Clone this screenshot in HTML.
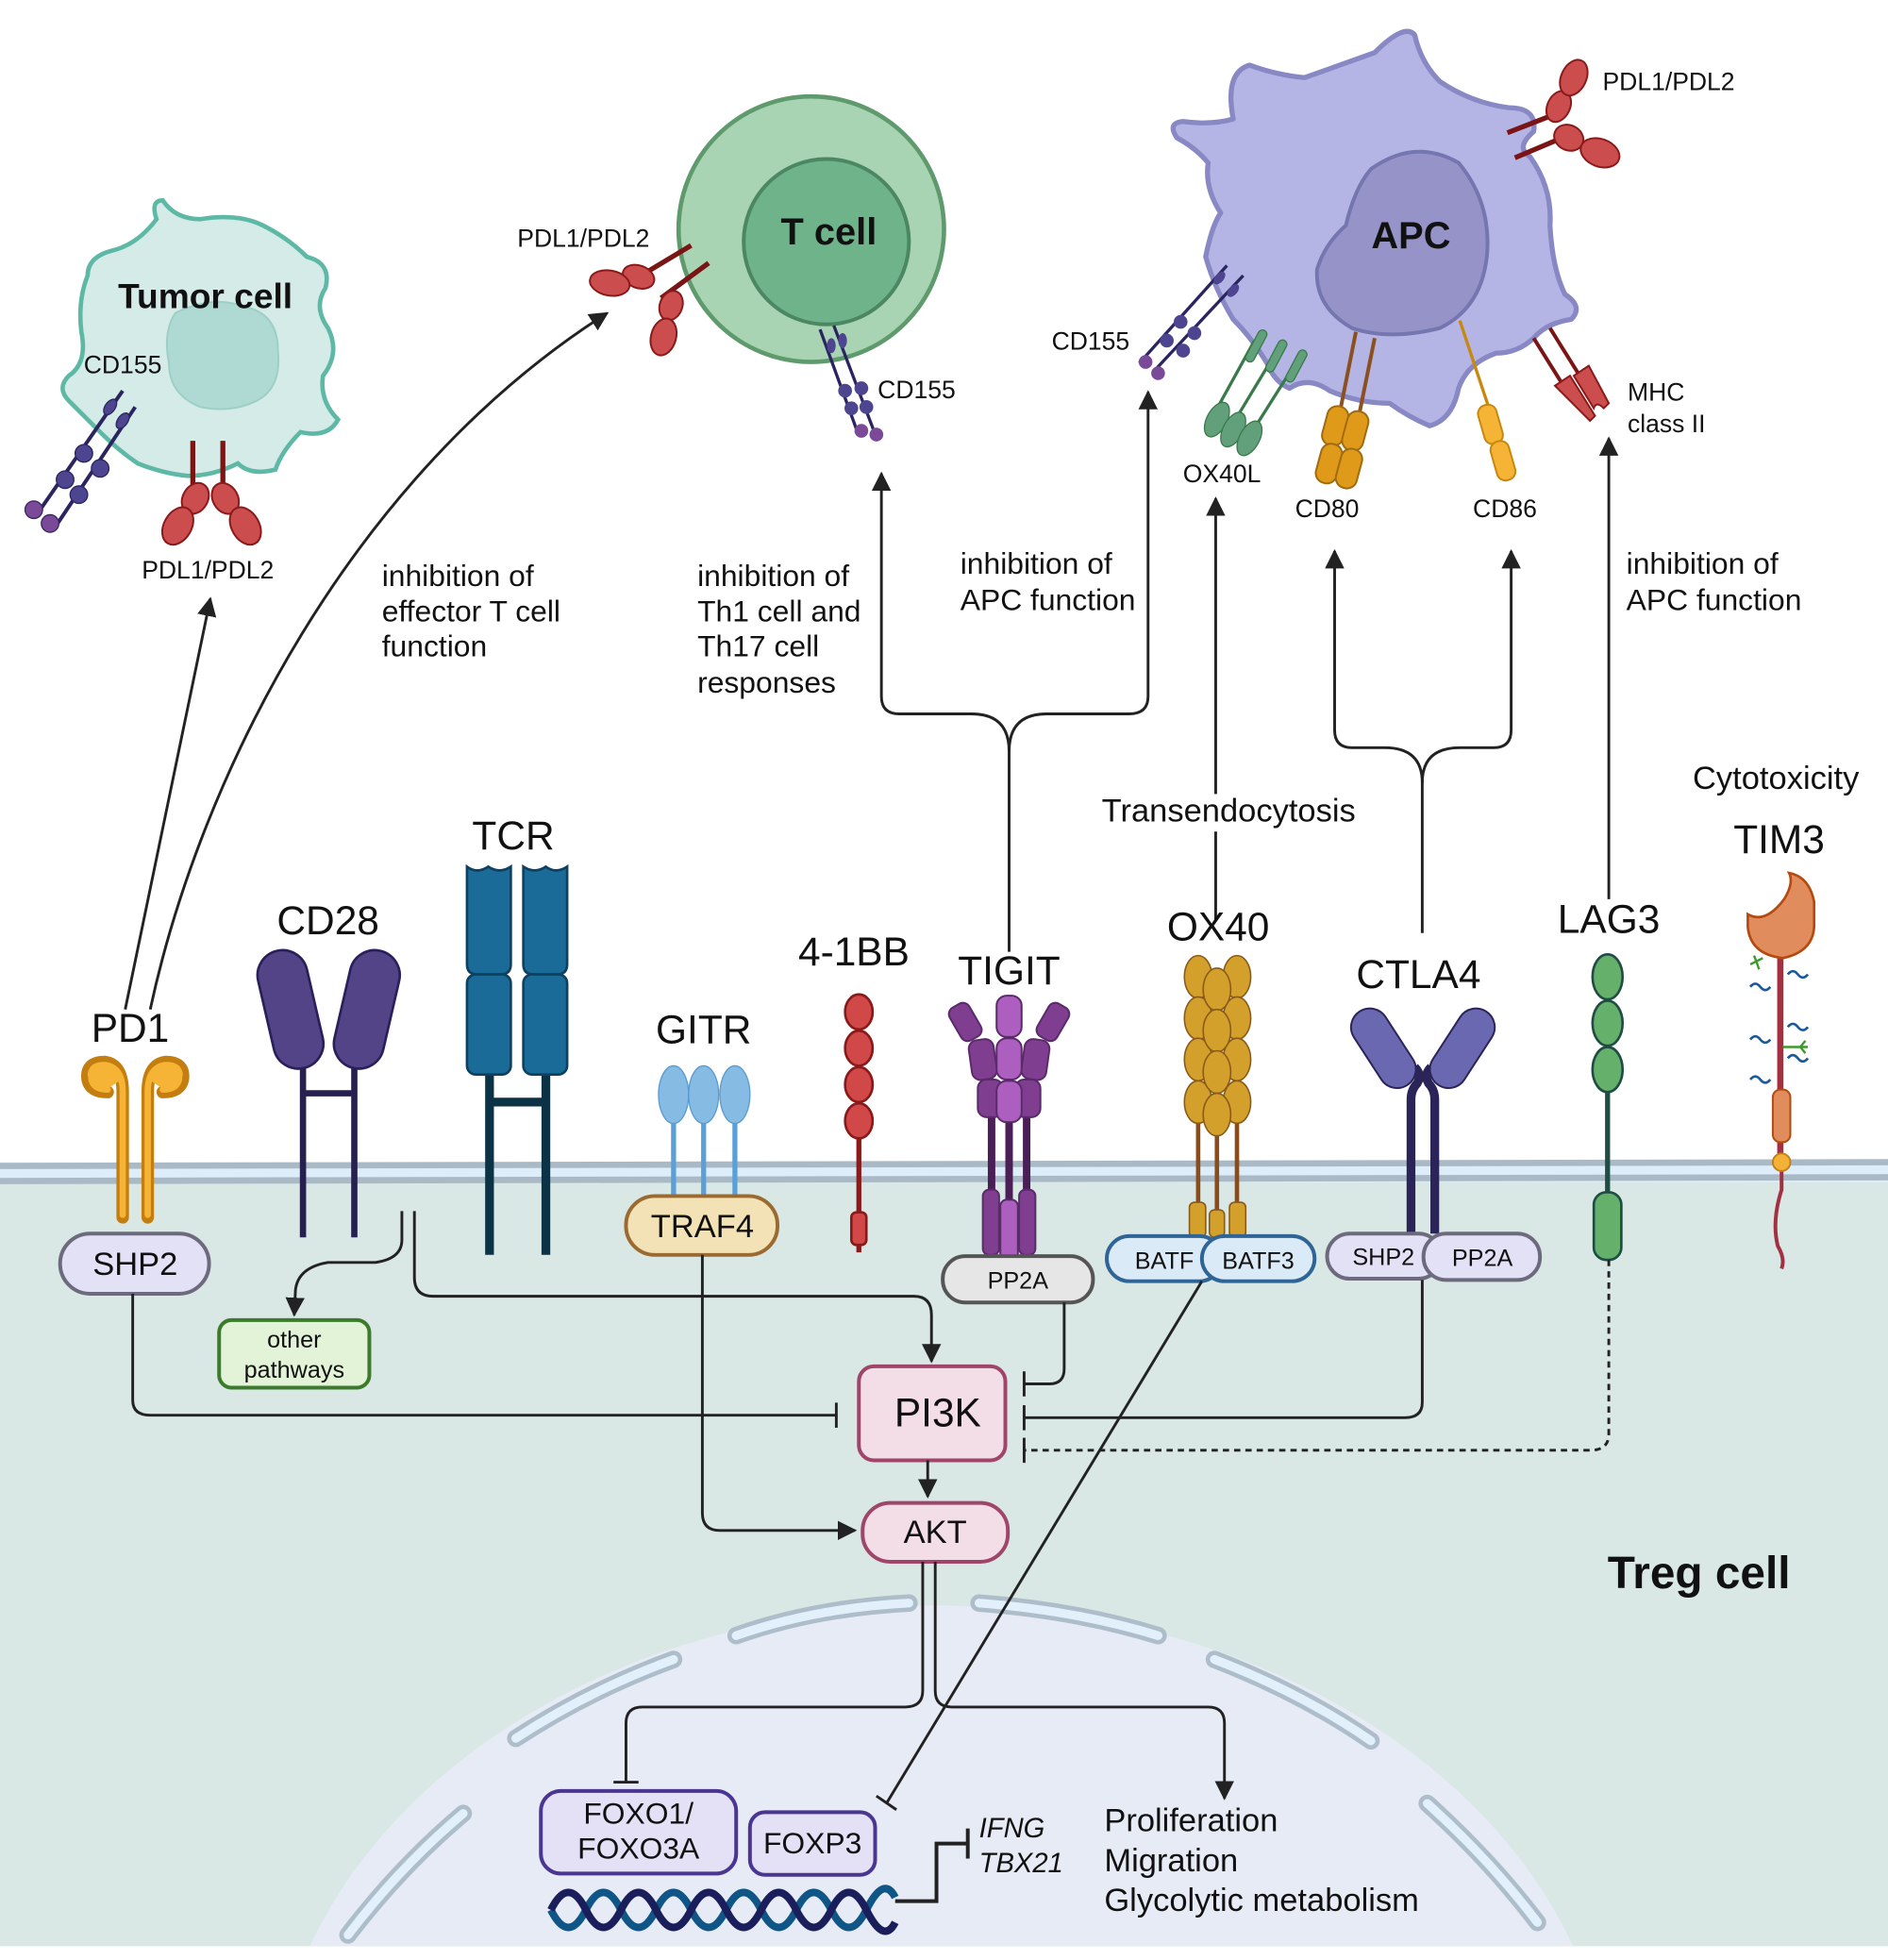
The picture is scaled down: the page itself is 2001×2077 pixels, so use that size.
<!DOCTYPE html>
<html><head><meta charset="utf-8"><style>
html,body{margin:0;padding:0;background:#fff;overflow:hidden;width:2001px;height:2077px;position:relative}
svg{display:block;position:absolute;left:0;top:0}
text{font-family:"Liberation Sans",Arial,sans-serif;fill:#111}
</style></head><body>
<svg width="2001" height="2077" viewBox="0 0 1508 1565" preserveAspectRatio="none" xmlns="http://www.w3.org/2000/svg">
<defs>
<marker id="ar" viewBox="0 0 10 10" refX="9" refY="5" markerWidth="7" markerHeight="7" orient="auto-start-reverse"><path d="M0,0 L10,5 L0,10 z" fill="#222"/></marker>
</defs>
<rect width="1508" height="1565" fill="#fff"/>
<rect x="0" y="940" width="1508" height="614" fill="#d9e8e4"/>
<rect x="0" y="928" width="1508" height="16" fill="#ddeefa"/>
<line x1="0" y1="931" x2="1508" y2="928" stroke="#aab9c6" stroke-width="5"/>
<line x1="0" y1="943" x2="1508" y2="940" stroke="#aab9c6" stroke-width="5"/>
<clipPath id="cl"><rect x="0" y="944" width="1508" height="610"/></clipPath>
<g clip-path="url(#cl)">
<ellipse cx="752" cy="1690" rx="535" ry="408" fill="#e7ebf5"/>
<g stroke="#aebdca" stroke-width="14" stroke-linecap="round" fill="none">
<path d="M588,1306 Q650,1284 726,1280"/><path d="M782,1280 Q860,1286 925,1306"/>
<path d="M970,1325 Q1040,1352 1095,1390"/><path d="M1140,1440 Q1190,1485 1228,1535"/>
<path d="M412,1388 Q470,1350 538,1325"/><path d="M278,1545 Q320,1490 370,1448"/>
</g>
<g stroke="#e2f0fb" stroke-width="7" stroke-linecap="round" fill="none">
<path d="M588,1306 Q650,1284 726,1280"/><path d="M782,1280 Q860,1286 925,1306"/>
<path d="M970,1325 Q1040,1352 1095,1390"/><path d="M1140,1440 Q1190,1485 1228,1535"/>
<path d="M412,1388 Q470,1350 538,1325"/><path d="M278,1545 Q320,1490 370,1448"/>
</g>
</g>

<!-- Tumor cell -->
<path d="M125,175 Q120,160 130,160 Q140,175 160,175 Q190,170 210,180 Q230,190 245,205 Q265,210 260,230 Q250,245 262,262 Q272,282 258,300 Q255,320 270,335 Q262,350 240,345 Q225,360 220,375 Q200,380 190,370 Q170,380 150,380 Q130,378 110,370 Q95,360 80,345 Q65,330 55,320 Q45,310 55,300 Q70,290 65,265 Q62,240 70,220 Q70,205 90,200 Q110,195 125,175 Z" fill="#d4ebe8" stroke="#5db8a6" stroke-width="3.5"/>
<path d="M140,250 Q170,235 195,245 Q222,250 222,280 Q225,310 205,320 Q185,330 160,325 Q135,315 135,290 Q130,265 140,250 Z" fill="#afdad4" stroke="#9ccfc6" stroke-width="1.5"/>
<text x="164" y="246" font-size="28" font-weight="bold" text-anchor="middle">Tumor cell</text>
<text x="98" y="298" font-size="20" text-anchor="middle">CD155</text>
<g stroke="#2a2560" stroke-width="3"><line x1="30" y1="410" x2="98" y2="312"/><line x1="46" y1="418" x2="108" y2="325"/></g>
<g fill="#4e4590" stroke="#2a2560" stroke-width="1"><ellipse cx="88" cy="325" rx="4" ry="7" transform="rotate(35 88 325)"/><ellipse cx="98" cy="336" rx="4" ry="7" transform="rotate(35 98 336)"/><circle cx="67" cy="362" r="7"/><circle cx="80" cy="374" r="7"/><circle cx="52" cy="383" r="7"/><circle cx="63" cy="395" r="7"/></g>
<g fill="#7a4a98" stroke="#3a2560"><circle cx="27" cy="407" r="7"/><circle cx="40" cy="418" r="7"/></g>
<g stroke="#7a1515" stroke-width="4"><line x1="154" y1="352" x2="154" y2="392"/><line x1="178" y1="352" x2="178" y2="392"/></g>
<g fill="#cc4d4d" stroke="#8a1a1a" stroke-width="1.5"><ellipse cx="156" cy="398" rx="10" ry="13" transform="rotate(30 156 398)"/><ellipse cx="142" cy="420" rx="11" ry="16" transform="rotate(30 142 420)"/><ellipse cx="180" cy="398" rx="10" ry="13" transform="rotate(-30 180 398)"/><ellipse cx="196" cy="420" rx="11" ry="16" transform="rotate(-30 196 420)"/></g>
<text x="166" y="462" font-size="20" text-anchor="middle">PDL1/PDL2</text>

<!-- T cell -->
<circle cx="648" cy="183" r="106" fill="#a9d4b4" stroke="#5e9a6c" stroke-width="3.5"/>
<circle cx="660" cy="193" r="66" fill="#6fb38b" stroke="#4b8762" stroke-width="3"/>
<text x="662" y="195" font-size="30" font-weight="bold" text-anchor="middle">T cell</text>
<text x="466" y="197" font-size="20" text-anchor="middle">PDL1/PDL2</text>
<g stroke="#7a1515" stroke-width="4"><line x1="512" y1="220" x2="552" y2="196"/><line x1="528" y1="238" x2="566" y2="210"/></g>
<g fill="#cc4d4d" stroke="#8a1a1a" stroke-width="1.5"><ellipse cx="510" cy="221" rx="9" ry="13" transform="rotate(-70 510 221)"/><ellipse cx="487" cy="226" rx="10" ry="16" transform="rotate(-80 487 226)"/><ellipse cx="536" cy="244" rx="9" ry="12" transform="rotate(20 536 244)"/><ellipse cx="530" cy="269" rx="10" ry="15" transform="rotate(15 530 269)"/></g>
<g stroke="#2a2560" stroke-width="2.5"><line x1="655" y1="263" x2="686" y2="348"/><line x1="666" y1="260" x2="698" y2="344"/></g>
<g fill="#4e4590"><ellipse cx="664" cy="276" rx="3.5" ry="6"/><ellipse cx="673" cy="272" rx="3.5" ry="6"/><circle cx="675" cy="312" r="5.5"/><circle cx="688" cy="310" r="5.5"/><circle cx="680" cy="326" r="5.5"/><circle cx="692" cy="325" r="5.5"/></g>
<g fill="#7a4a98"><circle cx="688" cy="344" r="5.5"/><circle cx="700" cy="347" r="5.5"/></g>
<text x="701" y="318" font-size="20">CD155</text>

<!-- APC -->
<path d="M940,110 Q932,98 945,97 Q968,100 985,95 Q978,58 998,52 Q1020,60 1042,62 Q1070,52 1098,42 Q1122,18 1130,28 Q1135,50 1150,65 Q1175,82 1205,86 Q1228,86 1225,105 Q1210,118 1222,125 Q1240,150 1238,180 Q1240,215 1250,235 Q1265,245 1255,255 Q1235,258 1225,270 Q1212,282 1195,282 Q1172,290 1165,310 Q1160,335 1142,340 Q1125,333 1110,322 Q1085,322 1062,312 Q1045,300 1030,310 Q1018,305 1012,290 Q1000,270 985,255 Q970,230 963,205 Q968,180 975,170 Q962,150 965,130 Q955,118 940,110 Z" fill="#b4b5e5" stroke="#8888c4" stroke-width="4" stroke-linejoin="round"/>
<path d="M1095,135 Q1130,110 1165,130 Q1190,160 1188,200 Q1185,245 1150,262 Q1110,272 1080,262 Q1050,245 1052,215 Q1058,195 1075,180 Q1082,150 1095,135 Z" fill="#9593c7" stroke="#7575b0" stroke-width="3"/>
<text x="1127" y="198" font-size="30" font-weight="bold" text-anchor="middle">APC</text>
<text x="1280" y="72" font-size="20">PDL1/PDL2</text>
<g stroke="#7a1515" stroke-width="4"><line x1="1204" y1="106" x2="1240" y2="92"/><line x1="1210" y1="126" x2="1248" y2="110"/></g>
<g fill="#cc4d4d" stroke="#8a1a1a" stroke-width="1.5"><ellipse cx="1245" cy="85" rx="9" ry="13" transform="rotate(25 1245 85)"/><ellipse cx="1257" cy="62" rx="10" ry="15" transform="rotate(25 1257 62)"/><ellipse cx="1253" cy="110" rx="10" ry="12" transform="rotate(-65 1253 110)"/><ellipse cx="1278" cy="122" rx="11" ry="16" transform="rotate(-70 1278 122)"/></g>
<text x="840" y="279" font-size="20">CD155</text>
<g stroke="#2a2560" stroke-width="2.5"><line x1="910" y1="290" x2="980" y2="212"/><line x1="922" y1="296" x2="993" y2="220"/></g>
<g fill="#4e4590"><ellipse cx="974" cy="222" rx="3.5" ry="6" transform="rotate(40 974 222)"/><ellipse cx="985" cy="232" rx="3.5" ry="6" transform="rotate(40 985 232)"/><circle cx="943" cy="257" r="5.5"/><circle cx="954" cy="266" r="5.5"/><circle cx="932" cy="272" r="5.5"/><circle cx="945" cy="280" r="5.5"/></g>
<g fill="#7a4a98"><circle cx="915" cy="289" r="5.5"/><circle cx="925" cy="298" r="5.5"/></g>
<g stroke="#3a7a4a" stroke-width="2.5"><line x1="970" y1="330" x2="1002" y2="272"/><line x1="985" y1="338" x2="1020" y2="280"/><line x1="1000" y1="345" x2="1036" y2="288"/></g>
<g fill="#61a07a" stroke="#3a7a4a" stroke-width="1"><rect x="1000" y="262" width="7" height="28" rx="3.5" transform="rotate(28 1003 276)"/><rect x="1016" y="270" width="7" height="28" rx="3.5" transform="rotate(28 1019 284)"/><rect x="1032" y="278" width="7" height="28" rx="3.5" transform="rotate(28 1035 292)"/><ellipse cx="972" cy="335" rx="8" ry="15" transform="rotate(28 972 335)"/><ellipse cx="985" cy="343" rx="8" ry="15" transform="rotate(28 985 343)"/><ellipse cx="998" cy="350" rx="8" ry="15" transform="rotate(28 998 350)"/></g>
<text x="976" y="385" font-size="20" text-anchor="middle">OX40L</text>
<g stroke="#8a5020" stroke-width="3"><line x1="1083" y1="265" x2="1070" y2="330"/><line x1="1098" y1="270" x2="1085" y2="334"/></g>
<g fill="#df9a1a" stroke="#a06a10" stroke-width="1.5"><rect x="1058" y="324" width="17" height="32" rx="8" transform="rotate(15 1066 340)"/><rect x="1074" y="328" width="17" height="32" rx="8" transform="rotate(15 1082 344)"/><rect x="1053" y="354" width="17" height="32" rx="8" transform="rotate(15 1061 370)"/><rect x="1069" y="358" width="17" height="32" rx="8" transform="rotate(15 1077 374)"/></g>
<text x="1060" y="413" font-size="20" text-anchor="middle">CD80</text>
<line x1="1166" y1="256" x2="1190" y2="328" stroke="#c8880e" stroke-width="2.5"/>
<g fill="#f6b436" stroke="#c8880e" stroke-width="1.5"><rect x="1183" y="323" width="15" height="32" rx="7" transform="rotate(-16 1190 339)"/><rect x="1193" y="352" width="15" height="32" rx="7" transform="rotate(-16 1200 368)"/></g>
<text x="1202" y="413" font-size="20" text-anchor="middle">CD86</text>
<g stroke="#7a1515" stroke-width="3"><line x1="1225" y1="270" x2="1250" y2="310"/><line x1="1238" y1="262" x2="1263" y2="302"/></g>
<g fill="#cc4d4d" stroke="#8a1a1a" stroke-width="1.5"><path d="M1242,308 l12,-8 l20,32 l-4,4 l-8,-8 z"/><path d="M1257,300 l12,-8 l16,30 l-4,4 q-6,-6 -8,0 z"/></g>
<text x="1300" y="320" font-size="20">MHC</text>
<text x="1300" y="345" font-size="20">class II</text>

<g font-size="24">
<text x="305" y="468">inhibition of</text><text x="305" y="496">effector T cell</text><text x="305" y="524">function</text>
<text x="557" y="468">inhibition of</text><text x="557" y="496">Th1 cell and</text><text x="557" y="524">Th17 cell</text><text x="557" y="553">responses</text>
<text x="767" y="458">inhibition of</text><text x="767" y="487">APC function</text>
<text x="1299" y="458">inhibition of</text><text x="1299" y="487">APC function</text>
</g>

<g stroke="#222" stroke-width="2.2" fill="none">
<line x1="100" y1="806" x2="168" y2="478" marker-end="url(#ar)"/>
<path d="M120,806 C160,620 280,380 485,250" marker-end="url(#ar)"/>
<path d="M806,760 L806,600 Q806,570 776,570 L718,570 Q704,570 704,556 L704,378" marker-end="url(#ar)"/>
<path d="M806,600 Q806,570 836,570 L902,570 Q917,570 917,556 L917,313" marker-end="url(#ar)"/>
<line x1="971" y1="735" x2="971" y2="398" marker-end="url(#ar)"/>
<path d="M1136,745 L1136,625 Q1136,597 1106,597 L1080,597 Q1066,597 1066,583 L1066,440" marker-end="url(#ar)"/>
<path d="M1136,625 Q1136,597 1166,597 L1193,597 Q1207,597 1207,583 L1207,440" marker-end="url(#ar)"/>
<line x1="1285" y1="718" x2="1285" y2="350" marker-end="url(#ar)"/>
</g>
<rect x="878" y="634" width="225" height="30" fill="#fff"/>
<text x="880" y="656" font-size="26">Transendocytosis</text>
<text x="1352" y="630" font-size="26">Cytotoxicity</text>

<g font-size="32" text-anchor="middle">
<text x="104" y="832">PD1</text><text x="262" y="746">CD28</text><text x="410" y="678">TCR</text>
<text x="562" y="833">GITR</text><text x="682" y="771">4-1BB</text><text x="806" y="786">TIGIT</text>
<text x="973" y="751">OX40</text><text x="1133" y="789">CTLA4</text><text x="1285" y="745">LAG3</text><text x="1421" y="681">TIM3</text>
</g>

<!-- PD1 -->
<g fill="none" stroke-linecap="round">
<path d="M98,972 L98,872 Q98,850 84,848 Q68,848 70,862 Q72,872 86,872" stroke="#c47e10" stroke-width="10"/>
<path d="M118,972 L118,872 Q118,850 132,848 Q148,848 146,862 Q144,872 130,872" stroke="#c47e10" stroke-width="10"/>
<path d="M98,970 L98,872 Q98,852 84,851 Q72,851 73,862 Q75,870 86,870" stroke="#f6b436" stroke-width="5"/>
<path d="M118,970 L118,872 Q118,852 132,851 Q144,851 143,862 Q141,870 130,870" stroke="#f6b436" stroke-width="5"/>
</g>
<path d="M88,868 Q70,868 70,857 Q72,847 85,848 Q97,850 97,862 Z" fill="#f6b436"/>
<path d="M128,868 Q146,868 146,857 Q144,847 131,848 Q119,850 119,862 Z" fill="#f6b436"/>

<!-- CD28 -->
<g stroke="#252050" stroke-width="5"><line x1="242" y1="850" x2="242" y2="988"/><line x1="283" y1="850" x2="283" y2="988"/><line x1="242" y1="873" x2="283" y2="873"/></g>
<g fill="#534487" stroke="#2b1f5a" stroke-width="2"><rect x="212" y="758" width="40" height="96" rx="20" transform="rotate(-13 232 806)"/><rect x="273" y="758" width="40" height="96" rx="20" transform="rotate(13 293 806)"/></g>

<!-- TCR -->
<g stroke="#0c3345" stroke-width="7"><line x1="391" y1="855" x2="391" y2="1002"/><line x1="436" y1="855" x2="436" y2="1002"/><line x1="391" y1="880" x2="436" y2="880"/></g>
<g fill="#1b6b98" stroke="#0e4060" stroke-width="2">
<path d="M373,692 q8,6 17,0 q9,6 18,0 L408,770 q0,8 -8,8 L381,778 q-8,0 -8,-8 Z"/>
<path d="M418,692 q9,6 18,0 q8,6 17,0 L453,770 q0,8 -8,8 L426,778 q-8,0 -8,-8 Z"/>
<rect x="373" y="778" width="35" height="80" rx="7"/><rect x="418" y="778" width="35" height="80" rx="7"/>
</g>

<!-- GITR -->
<g stroke="#5aa0d8" stroke-width="4"><line x1="538" y1="890" x2="538" y2="958"/><line x1="562" y1="890" x2="562" y2="958"/><line x1="587" y1="890" x2="587" y2="958"/></g>
<g fill="#86bce3" stroke="#5a9ad0" stroke-width="1"><ellipse cx="538" cy="874" rx="12" ry="23"/><ellipse cx="562" cy="874" rx="12" ry="23"/><ellipse cx="587" cy="874" rx="12" ry="23"/></g>

<!-- 4-1BB -->
<line x1="686" y1="820" x2="686" y2="1000" stroke="#8a1a1a" stroke-width="4"/>
<g fill="#d04848" stroke="#8a1a1a" stroke-width="2"><ellipse cx="686" cy="808" rx="11" ry="14"/><ellipse cx="686" cy="837" rx="11" ry="14"/><ellipse cx="686" cy="866" rx="11" ry="14"/><ellipse cx="686" cy="895" rx="11" ry="14"/><rect x="680" y="968" width="12" height="26" rx="4"/></g>

<!-- TIGIT -->
<g stroke="#4a1f55" stroke-width="6"><line x1="792" y1="880" x2="792" y2="960"/><line x1="806" y1="880" x2="806" y2="985"/><line x1="820" y1="880" x2="820" y2="960"/></g>
<g stroke="#5a2a6a" stroke-width="1.5">
<rect x="785" y="950" width="13" height="52" rx="5" fill="#7f3e90"/><rect x="814" y="950" width="13" height="52" rx="5" fill="#7f3e90"/><rect x="799" y="958" width="14" height="48" rx="5" fill="#ad5fc0"/>
<rect x="762" y="801" width="18" height="30" rx="6" fill="#7f3e90" transform="rotate(-30 771 816)"/>
<rect x="832" y="801" width="18" height="30" rx="6" fill="#7f3e90" transform="rotate(30 841 816)"/>
<rect x="775" y="830" width="20" height="32" rx="7" fill="#7f3e90" transform="rotate(-8 785 846)"/>
<rect x="817" y="830" width="20" height="32" rx="7" fill="#7f3e90" transform="rotate(8 827 846)"/>
<rect x="781" y="862" width="20" height="30" rx="7" fill="#7f3e90"/><rect x="811" y="862" width="20" height="30" rx="7" fill="#7f3e90"/>
<rect x="796" y="795" width="20" height="33" rx="8" fill="#ad5fc0"/><rect x="796" y="829" width="20" height="33" rx="8" fill="#ad5fc0"/><rect x="796" y="863" width="20" height="33" rx="8" fill="#ad5fc0"/>
</g>

<!-- OX40 -->
<g stroke="#8a4c1a" stroke-width="3.5"><line x1="957" y1="870" x2="957" y2="970"/><line x1="972" y1="885" x2="972" y2="975"/><line x1="988" y1="870" x2="988" y2="970"/></g>
<g fill="#d3a02c" stroke="#8a5a1a" stroke-width="1.2">
<rect x="950" y="960" width="13" height="28" rx="4"/><rect x="966" y="966" width="12" height="22" rx="4"/><rect x="982" y="960" width="13" height="28" rx="4"/>
<ellipse cx="957" cy="780" rx="11" ry="17"/><ellipse cx="957" cy="813" rx="11" ry="17"/><ellipse cx="957" cy="846" rx="11" ry="17"/><ellipse cx="957" cy="880" rx="11" ry="17"/>
<ellipse cx="988" cy="780" rx="11" ry="17"/><ellipse cx="988" cy="813" rx="11" ry="17"/><ellipse cx="988" cy="846" rx="11" ry="17"/><ellipse cx="988" cy="880" rx="11" ry="17"/>
<ellipse cx="972" cy="790" rx="11" ry="17"/><ellipse cx="972" cy="823" rx="11" ry="17"/><ellipse cx="972" cy="856" rx="11" ry="17"/><ellipse cx="972" cy="890" rx="11" ry="17"/>
</g>

<!-- CTLA4 -->
<g stroke="#2a2458" stroke-width="7" fill="none"><path d="M1127,985 L1127,878 Q1127,870 1132,865 Q1136,858 1130,852"/><path d="M1146,985 L1146,878 Q1146,870 1141,865 Q1137,858 1143,852"/></g>
<g fill="#6a68b0" stroke="#2a2458" stroke-width="1.5"><rect x="1090" y="802" width="30" height="70" rx="15" transform="rotate(-33 1105 837)"/><rect x="1153" y="802" width="30" height="70" rx="15" transform="rotate(33 1168 837)"/></g>

<!-- LAG3 -->
<line x1="1284" y1="860" x2="1284" y2="960" stroke="#1f4d44" stroke-width="4"/>
<g fill="#65b06a" stroke="#1f4d44" stroke-width="2"><ellipse cx="1284" cy="780" rx="12" ry="18"/><ellipse cx="1284" cy="817" rx="12" ry="18"/><ellipse cx="1284" cy="854" rx="12" ry="18"/><rect x="1273" y="952" width="22" height="54" rx="10"/></g>

<!-- TIM3 -->
<path d="M1423,934 L1423,950 Q1415,975 1420,995 Q1426,1005 1423,1013" stroke="#a33040" stroke-width="3" fill="none"/>
<line x1="1422" y1="760" x2="1422" y2="930" stroke="#a33040" stroke-width="5"/>
<rect x="1416" y="870" width="14" height="42" rx="6" fill="#e08c5c" stroke="#b44a10" stroke-width="1.5"/>
<circle cx="1423" cy="928" r="7" fill="#f3b235" stroke="#c4801a" stroke-width="1.5"/>
<path d="M1396,730 Q1410,738 1425,718 Q1433,705 1429,697 Q1445,700 1449,720 L1449,740 Q1448,760 1424,765 Q1398,762 1396,740 Z" fill="#e08c5c" stroke="#b44a10" stroke-width="2"/>
<g stroke="#1a5a9a" stroke-width="2" fill="none">
<path d="M1428,778 q4,-5 8,0 q4,5 8,0"/><path d="M1398,788 q4,-5 8,0 q4,5 8,0"/><path d="M1428,820 q4,-5 8,0 q4,5 8,0"/><path d="M1398,830 q4,-5 8,0 q4,5 8,0"/><path d="M1428,845 q4,-5 8,0 q4,5 8,0"/><path d="M1398,862 q4,-5 8,0 q4,5 8,0"/>
</g>
<g stroke="#3a9a2a" stroke-width="1.8" fill="none"><path d="M1408,765 l-10,5 M1403,768 l-2,-5 M1403,768 l2,6"/><path d="M1424,836 l20,0 M1438,836 l4,-5 M1438,836 l4,5"/></g>

<!-- intracellular boxes -->
<g stroke-width="3">
<rect x="48" y="985" width="119" height="48" rx="24" fill="#e3e1f6" stroke="#6c6a7c"/>
<rect x="500" y="955" width="121" height="47" rx="23" fill="#f2e2b6" stroke="#9a6a30"/>
<rect x="753" y="1003" width="120" height="37" rx="18" fill="#e6e6e6" stroke="#555"/>
<rect x="884" y="987" width="92" height="36" rx="18" fill="#dbeaf7" stroke="#2f6496"/>
<rect x="960" y="987" width="90" height="36" rx="18" fill="#dbeaf7" stroke="#2f6496"/>
<rect x="1060" y="985" width="91" height="36" rx="18" fill="#e3e1f6" stroke="#6c6a7c"/>
<rect x="1137" y="985" width="93" height="37" rx="18" fill="#e3e1f6" stroke="#6c6a7c"/>
<rect x="175" y="1054" width="120" height="54" rx="10" fill="#e2f3d8" stroke="#3c7a2c"/>
<rect x="686" y="1091" width="117" height="75" rx="12" fill="#f3dde6" stroke="#a0456a"/>
<rect x="689" y="1200" width="116" height="47" rx="22" fill="#f3dde6" stroke="#a0456a"/>
<rect x="432" y="1430" width="156" height="66" rx="16" fill="#e4e0f6" stroke="#4a3590"/>
<rect x="599" y="1447" width="100" height="50" rx="12" fill="#e4e0f6" stroke="#4a3590"/>
</g>
<g text-anchor="middle">
<text x="108" y="1018" font-size="26">SHP2</text>
<text x="561" y="988" font-size="26">TRAF4</text>
<text x="813" y="1029" font-size="19">PP2A</text>
<text x="930" y="1013" font-size="19">BATF</text>
<text x="1005" y="1013" font-size="19">BATF3</text>
<text x="1105" y="1010" font-size="19">SHP2</text>
<text x="1184" y="1011" font-size="19">PP2A</text>
<text x="235" y="1076" font-size="19">other</text><text x="235" y="1100" font-size="19">pathways</text>
<text x="749" y="1139" font-size="32">PI3K</text>
<text x="747" y="1232" font-size="26">AKT</text>
<text x="510" y="1456" font-size="24">FOXO1/</text><text x="510" y="1484" font-size="24">FOXO3A</text>
<text x="649" y="1480" font-size="24">FOXP3</text>
</g>
<text x="1357" y="1268" font-size="36" font-weight="bold" text-anchor="middle">Treg cell</text>

<g stroke="#222" stroke-width="2.2" fill="none">
<path d="M321,967 L321,990 Q321,1005 300,1008 L262,1008 Q238,1012 236,1030 L235,1050" marker-end="url(#ar)"/>
<path d="M331,967 L331,1020 Q331,1035 346,1035 L730,1035 Q744,1035 744,1050 L744,1087" marker-end="url(#ar)"/>
<path d="M106,1033 L106,1118 Q106,1130 120,1130 L668,1130"/><line x1="668" y1="1120" x2="668" y2="1140"/>
<path d="M561,1002 L561,1208 Q561,1222 575,1222 L683,1222" marker-end="url(#ar)"/>
<path d="M850,1040 L850,1093 Q850,1105 838,1105 L818,1105"/><line x1="818" y1="1095" x2="818" y2="1115"/>
<path d="M1136,1022 L1136,1120 Q1136,1132 1122,1132 L818,1132"/><line x1="818" y1="1122" x2="818" y2="1142"/>
<path d="M1285,1006 L1285,1145 Q1285,1158 1270,1158 L818,1158" stroke-dasharray="5,4"/><line x1="818" y1="1148" x2="818" y2="1168"/>
<line x1="741" y1="1166" x2="741" y2="1195" marker-end="url(#ar)"/>
<path d="M737,1247 L737,1350 Q737,1363 723,1363 L513,1363 Q500,1363 500,1376 L500,1423"/><line x1="490" y1="1423" x2="510" y2="1423"/>
<path d="M747,1247 L747,1350 Q747,1363 760,1363 L965,1363 Q978,1363 978,1376 L978,1436" marker-end="url(#ar)"/>
<line x1="960" y1="1023" x2="708" y2="1440"/><line x1="700" y1="1434" x2="716" y2="1445"/>
<path d="M715,1518 L748,1518 L748,1472 L773,1472" stroke-width="3"/><line x1="773" y1="1460" x2="773" y2="1484" stroke-width="3"/>
</g>
<!-- DNA -->
<g fill="none" stroke-width="6">
<path d="M440,1525 Q454,1553 468,1525 T496,1525 T524,1525 T552,1525 T580,1525 T608,1525 T636,1525 T664,1525 T692,1525 T715,1515" stroke="#0f5585"/>
<path d="M440,1525 Q454,1497 468,1525 T496,1525 T524,1525 T552,1525 T580,1525 T608,1525 T636,1525 T664,1525 T692,1525 T715,1535" stroke="#1a1e5a"/>
</g>
<g font-size="22" font-style="italic"><text x="782" y="1467">IFNG</text><text x="782" y="1495">TBX21</text></g>
<g font-size="26"><text x="882" y="1462">Proliferation</text><text x="882" y="1494">Migration</text><text x="882" y="1526">Glycolytic metabolism</text></g>
</svg>
</body></html>
